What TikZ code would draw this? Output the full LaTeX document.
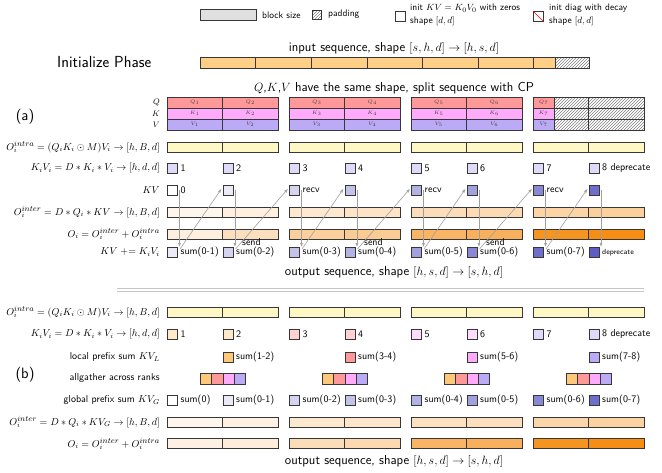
\documentclass[tikz,border=0pt]{standalone}
\usepackage{amsmath,amssymb}
\usetikzlibrary{arrows.meta,patterns,calc}
\definecolor{inbar}{RGB}{255,207,135}
\definecolor{qcol}{RGB}{255,153,153}
\definecolor{kcol}{RGB}{255,170,250}
\definecolor{vcol}{RGB}{187,170,245}
\definecolor{intra}{RGB}{255,247,196}
\definecolor{kvi}{RGB}{222,218,248}
\definecolor{kvbase}{RGB}{85,85,195}
\definecolor{obase}{RGB}{246,142,22}
\definecolor{edge}{RGB}{55,55,55}
\definecolor{lorange}{RGB}{253,200,122}
\newcommand\spx[1]{^{\mbox{\fontsize{8.3}{9}\selectfont$#1$}}}
\begin{document}
\begin{tikzpicture}[x=1pt,y=-1pt,font=\sffamily,
  blk/.style={draw=edge,line width=0.5pt},
  sq/.style={draw=edge,line width=0.5pt,minimum size=10pt,inner sep=0pt,anchor=north west},
  lab/.style={font=\sffamily\fontsize{10}{11}\selectfont,inner sep=0pt,anchor=west},
  smalllab/.style={font=\sffamily\fontsize{7.5}{8}\selectfont,inner sep=0pt,anchor=west},
  leg/.style={font=\sffamily\fontsize{9.5}{12.5}\selectfont,inner sep=0pt,anchor=west,align=left},
  rowlab/.style={font=\sffamily\fontsize{10}{11}\selectfont,inner sep=0pt,anchor=east},
  inlab/.style={font=\fontsize{5.5}{6}\selectfont,inner sep=0pt,text=black!75},
  arr/.style={draw=gray!75,line width=0.6pt,-{Latex[length=4pt,width=3pt]}},
  ttl/.style={font=\sffamily\fontsize{13}{15}\selectfont,inner sep=0pt},
  part/.style={font=\sffamily\fontsize{15}{17}\selectfont,inner sep=0pt},
  ]
\useasboundingbox (0,0) rectangle (662,472);

% ---------- legend ----------
\draw[blk,fill=black!12] (200,9) rectangle (256,20);
\node[leg] (lbs) at (262,15) {block size};
\draw[blk,pattern=north east lines,pattern color=gray] (312,10) rectangle (321,19);
\node[leg] (lpad) at (328,14) {padding};
\node[sq,fill=white,minimum size=10pt] (lz) at (395,11) {};
\node[leg] (lzt) at (410,15) {init $KV=K_0V_0$ with zeros\\shape $[d,d]$};
\node[sq,fill=white,minimum size=10pt] (ld) at (533,11) {};
\draw[red,line width=0.6pt] (ld.north west) -- (ld.south east);
\node[leg] (ldt) at (549,15) {init diag with decay\\shape $[d,d]$};

% ---------- initialize ----------
\node[ttl] (tin) at (394,48) {input sequence, shape $[s,h,d]\rightarrow[h,s,d]$};
\node[font=\sffamily\fontsize{16}{18}\selectfont,inner sep=0pt,anchor=west] (init) at (57,62) {Initialize Phase};
\foreach \i in {0,...,5} \draw[blk,fill=inbar] ({200+\i*55.6},57) rectangle ++(55.6,11);
\draw[blk,fill=inbar] (533.6,57) rectangle (555.6,68);
\draw[blk,pattern=north east lines,pattern color=gray] (555.6,57) rectangle (589,68);

\node[ttl] (tqkv) at (394,88) {$Q$,$K$,$V$ have the same shape, split sequence with CP};
\node[part] (pa) at (25,117) {(a)};
\node[rowlab,font=\fontsize{8.5}{9}\selectfont] (lq) at (160,102.5) {$Q$};
\node[rowlab,font=\fontsize{8.5}{9}\selectfont] (lk) at (160,113.5) {$K$};
\node[rowlab,font=\fontsize{8.5}{9}\selectfont] (lv) at (160,124.5) {$V$};
\foreach \x/\n in {167/1,222.5/2,289/3,344.5/4,411/5,466.5/6} {
  \draw[blk,fill=qcol] (\x,97) rectangle ++(55.5,11);
  \draw[blk,fill=kcol] (\x,108) rectangle ++(55.5,11);
  \draw[blk,fill=vcol] (\x,119) rectangle ++(55.5,11);
  \node[inlab] at ({\x+27.75},102.5) {$Q_{\n}$};
  \node[inlab] at ({\x+27.75},113.5) {$K_{\n}$};
  \node[inlab] at ({\x+27.75},124.5) {$V_{\n}$};
}
\draw[blk,fill=qcol] (533,97) rectangle (554,108);
\draw[blk,fill=kcol] (533,108) rectangle (554,119);
\draw[blk,fill=vcol] (533,119) rectangle (554,130);
\node[inlab] at (543.5,102.5) {$Q_7$};
\node[inlab] at (543.5,113.5) {$K_7$};
\node[inlab] at (543.5,124.5) {$V_7$};
\draw[blk,pattern=north east lines,pattern color=gray] (554,97) rectangle (644,130);
\draw[blk] (554,108) -- (644,108) (554,119) -- (644,119) (588.5,97) -- (588.5,130) (554,97) rectangle (644,130);

% ---------- (a) rows ----------
\node[rowlab] (la1) at (160,147) {$O_i\spx{intra}=(Q_iK_i\odot M)V_i\rightarrow[h,B,d]$};
\node[rowlab] (la2) at (160,168) {$K_iV_i=D*K_i*V_i\rightarrow[h,d,d]$};
\node[rowlab] (la3) at (160,190) {$KV$};
\node[rowlab] (la4) at (160,212) {$O_i\spx{inter}=D*Q_i*KV\rightarrow[h,B,d]$};
\node[rowlab] (la5) at (160,234) {$O_i=O_i\spx{inter}+O_i\spx{intra}$};
\node[rowlab] (la6) at (160,252) {$KV\mathrel{+}=K_iV_i$};

\foreach \x/\pa/\pb in {167/8/14,222.5/14/28,289/20/42,344.5/24/46,411/30/66,466.5/32/70,533/38/95,588.5/42/100} {
  \draw[blk,fill=intra] (\x,142) rectangle ++(55.5,10.5);
  \draw[blk,fill=obase!\pa!white] (\x,207) rectangle ++(55.5,10.5);
  \draw[blk,fill=obase!\pb!white] (\x,229) rectangle ++(55.5,10.5);
}
\foreach \x/\t [count=\i] in {167/1,222.5/2,289/3,344.5/4,411/5,466.5/6,533/7,588.5/8 deprecate} {
  \node[sq,fill=kvi] (ka\i) at (\x,163) {};
  \node[lab] (kal\i) at ($(ka\i.east)+(3,0)$) {\t};
}
\foreach \x/\p [count=\i] in {167/0,222.5/12,289/25,344.5/35,411/45,466.5/55,533/70,588.5/85} {
  \node[sq,fill=kvbase!\p!white] (kv\i) at (\x,185) {};
}
\node[lab] (kvl1) at ($(kv1.east)+(3,0)$) {0};
\foreach \i in {3,5,7} \node[smalllab,font=\sffamily\fontsize{10}{11}\selectfont] (rc\i) at ($(kv\i.east)+(3,0)$) {recv};
\foreach \x/\p/\t [count=\i] in {167/12/sum(0-1),222.5/25/sum(0-2),289/35/sum(0-3),344.5/45/sum(0-4),411/55/sum(0-5),466.5/70/sum(0-6),533/85/sum(0-7)} {
  \node[sq,fill=kvbase!\p!white] (sm\i) at (\x,247) {};
  \node[lab] (sml\i) at ($(sm\i.east)+(3,0)$) {\t};
}
\node[sq,fill=kvbase!95!white] (sm8) at (588.5,247) {};
\node[smalllab] (sml8) at ($(sm8.east)+(3,0)$) {deprecate};
\foreach \i in {2,4,6} \node[font=\sffamily\fontsize{10}{11}\selectfont,inner sep=0pt,anchor=south west] (sd\i) at ($(sm\i.north east)+(9,-0.8)$) {send};

\foreach \i in {1,...,8} \draw[arr] ($(kv\i.east)+(2,0)$) -- ($(sm\i.north east)+(2,0)$);
\foreach \i [evaluate=\i as \j using {int(\i+1)}] in {1,...,7} \draw[arr] ($(sm\i.north east)+(2.5,2)$) -- ($(kv\j.west)+(-1,-1.5)$);

\node[ttl] (touta) at (394,272) {output sequence, shape $[h,s,d]\rightarrow[s,h,d]$};
\draw[gray!45,line width=0.6pt] (117,288) -- (644,288) (117,291) -- (644,291);

% ---------- (b) rows ----------
\node[part] (pb) at (25,375) {(b)};
\node[rowlab] (lb1) at (160,312) {$O_i\spx{intra}=(Q_iK_i\odot M)V_i\rightarrow[h,B,d]$};
\node[rowlab] (lb2) at (160,334) {$K_iV_i=D*K_i*V_i\rightarrow[h,d,d]$};
\node[rowlab] (lb3) at (160,357) {local prefix sum $KV_L$};
\node[rowlab] (lb4) at (160,378) {allgather across ranks};
\node[rowlab] (lb5) at (160,400) {global prefix sum $KV_G$};
\node[rowlab] (lb6) at (160,422) {$O_i\spx{inter}=D*Q_i*KV_G\rightarrow[h,B,d]$};
\node[rowlab] (lb7) at (160,444) {$O_i=O_i\spx{inter}+O_i\spx{intra}$};

\foreach \x/\pa/\pb in {167/8/12,222.5/12/16,289/20/30,344.5/22/34,411/26/66,466.5/28/70,533/36/95,588.5/40/100} {
  \draw[blk,fill=intra] (\x,307) rectangle ++(55.5,10.5);
  \draw[blk,fill=obase!\pa!white] (\x,417) rectangle ++(55.5,10.5);
  \draw[blk,fill=obase!\pb!white] (\x,438) rectangle ++(55.5,10.5);
}
\foreach \x/\c/\t [count=\i] in {167/inbar!45!white/1,222.5/inbar!45!white/2,289/qcol!45!white/3,344.5/qcol!45!white/4,411/kcol!40!white/5,466.5/kcol!40!white/6,533/vcol!45!white/7,588.5/vcol!45!white/8 deprecate} {
  \node[sq,fill=\c] (kb\i) at (\x,329) {};
  \node[lab] (kbl\i) at ($(kb\i.east)+(3,0)$) {\t};
}
\foreach \x/\c/\t [count=\i] in {222.5/lorange/sum(1-2),344.5/qcol/sum(3-4),466.5/kcol/sum(5-6),588.5/vcol/sum(7-8)} {
  \node[sq,fill=\c] (lp\i) at (\x,352) {};
  \node[lab] (lpl\i) at ($(lp\i.east)+(3,0)$) {\t};
}
\foreach \g in {0,...,3} {
  \foreach \c [count=\k] in {lorange,qcol,kcol,vcol} {
    \node[sq,fill=\c,minimum size=11.25pt] (ag\g\k) at ({200+\g*122+(\k-1)*11.25},373) {};
  }
}
\foreach \x/\p/\t [count=\i] in {167/0/sum(0),222.5/12/sum(0-1),289/25/sum(0-2),344.5/35/sum(0-3),411/45/sum(0-4),466.5/55/sum(0-5),533/70/sum(0-6),588.5/85/sum(0-7)} {
  \node[sq,fill=kvbase!\p!white] (gp\i) at (\x,395) {};
  \node[lab] (gpl\i) at ($(gp\i.east)+(3,0)$) {\t};
}
\node[ttl] (toutb) at (394,461) {output sequence, shape $[h,s,d]\rightarrow[s,h,d]$};
\end{tikzpicture}
\end{document}
